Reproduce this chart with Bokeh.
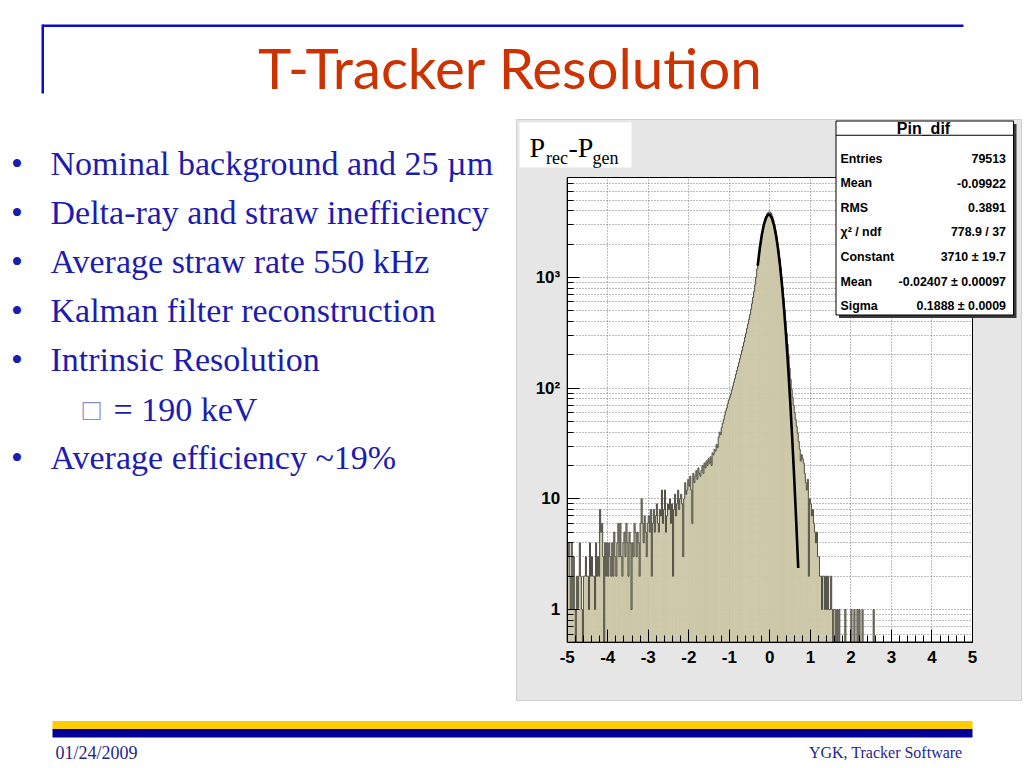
import math
import numpy as np
from bokeh.plotting import figure
from bokeh.models import Range1d, Label, BoxAnnotation, FixedTicker, ColumnDataSource, Grid
from bokeh.embed import file_html
from bokeh.resources import INLINE

# ---------------- data ----------------
hist_low, hist_high, n_bins = -5.0, 5.0, 400
counts = [
    3, 4, 2, 1, 4, 1, 3, 1, 0, 2, 1, 2, 4, 2, 1, 0, 2, 2, 3, 2,
    2, 1, 4, 2, 3, 2, 2, 1, 4, 2, 3, 2, 8, 5, 6, 3, 0, 4, 2, 4,
    2, 4, 3, 2, 4, 2, 5, 3, 2, 4, 6, 3, 6, 3, 2, 4, 5, 3, 6, 4,
    2, 5, 4, 1, 4, 3, 6, 5, 3, 5, 4, 2, 6, 10, 6, 4, 7, 5, 3, 6,
    7, 5, 8, 2, 6, 8, 5, 7, 9, 6, 5, 8, 7, 12, 6, 8, 12, 5, 7, 9,
    8, 10, 6, 9, 2, 8, 11, 7, 9, 12, 8, 10, 11, 9, 3, 10, 14, 11, 12, 15,
    13, 16, 12, 6, 17, 14, 16, 18, 15, 19, 17, 16, 18, 20, 17, 21, 19, 22, 20, 23,
    21, 24, 20, 26, 25, 28, 27, 31, 29, 36, 40, 38, 44, 48, 52, 57, 62, 66, 72, 78,
    82, 88, 96, 104, 113, 122, 133, 144, 156, 170, 184, 200, 218, 238, 260, 286, 312, 345, 380, 418,
    462, 515, 580, 660, 750, 860, 1000, 1190, 1400, 1680, 1970, 2270, 2570, 2860, 3130, 3370, 3560, 3760, 3870, 3900,
    3880, 3780, 3560, 3300, 3010, 2700, 2380, 2070, 1770, 1490, 1240, 1010, 815, 650, 510, 400, 315, 250, 196, 152,
    120, 97, 82, 70, 60, 52, 45, 39, 33, 28, 22, 25, 23, 21, 17, 14, 12, 15, 2, 10,
    9, 7, 8, 6, 5, 4, 5, 3, 3, 2, 2, 1, 2, 2, 1, 2, 1, 2, 1, 1,
    2, 1, 0, 1, 1, 0, 1, 0, 1, 0, 0, 0, 0, 0, 1, 0, 0, 0, 0, 0,
    1, 0, 0, 1, 0, 0, 1, 0, 1, 0, 0, 1, 0, 0, 0, 0, 0, 0, 0, 0,
    0, 0, 1, 0, 0, 0, 0, 0, 0, 0, 0, 0, 0, 0, 0, 0, 0, 0, 0, 0,
    0, 0, 0, 0, 0, 0, 0, 0, 0, 0, 0, 0, 0, 0, 0, 0, 0, 0, 0, 0,
    0, 0, 0, 0, 0, 0, 0, 0, 0, 0, 0, 0, 0, 0, 0, 0, 0, 0, 0, 0,
    0, 0, 0, 0, 0, 0, 0, 0, 0, 0, 0, 0, 0, 0, 0, 0, 0, 0, 0, 0,
    0, 0, 0, 0, 0, 0, 0, 0, 0, 0, 0, 0, 0, 0, 0, 0, 0, 0, 0, 0,
]
fit_x = [-0.30, -0.25, -0.20, -0.15, -0.10, -0.05, -0.025, 0.00, 0.05, 0.10, 0.15,
         0.20, 0.25, 0.30, 0.35, 0.40, 0.45, 0.50, 0.55, 0.60, 0.65, 0.70]
fit_y = [1275, 1813, 2403, 2970, 3422, 3675, 3710, 3680, 3435, 2990, 2426,
         1835, 1294, 850, 521, 298, 158.6, 78.7, 36.4, 15.7, 6.33, 2.37]

x_ticks = [-5, -4, -3, -2, -1, 0, 1, 2, 3, 4, 5]
x_tick_labels = ["-5", "-4", "-3", "-2", "-1", "0", "1", "2", "3", "4", "5"]
y_ticks = [1, 10, 100, 1000]
y_tick_labels = ["1", "10", "10\u00b2", "10\u00b3"]

stats_title = "Pin_dif"
stats_names = ["Entries", "Mean", "RMS", "\u03c7\u00b2 / ndf", "Constant", "Mean", "Sigma"]
stats_values = ["79513", "-0.09922", "0.3891", "778.9 / 37", "3710 \u00b1 19.7",
                "-0.02407 \u00b1 0.00097", "0.1888 \u00b1 0.0009"]

slide_title = "T-Tracker Resolution"
bullets = ["Nominal background and 25 \u00b5m", "Delta-ray and straw inefficiency",
           "Average straw rate 550 kHz", "Kalman filter reconstruction", "Intrinsic Resolution"]
sub_box = "\u25a1"
sub_text = "= 190 keV"
last_bullet = "Average efficiency ~19%"
footer_left = "01/24/2009"
footer_right = "YGK, Tracker Software"

# ---------------- styles / geometry ----------------
TAN = "#ccc7a8"
ROOT_GREY = "#e6e6e6"
BLUE_TEXT = "#1c1cb0"
TITLE_COL = "#cc3300"
LINE_BLUE = "#0a0ad0"
YELLOW = "#ffcc00"
NAVY = "#000099"
FOOT_COL = "#1f1f8f"
GRID_COL = "#7a7a7a"

W, H = 1022, 766
FL, FR, FT, FB = 566.7, 972.0, 177.0, 641.7      # histogram frame on the canvas (px)
Y_MIN, Y_MAX = 0.507, 7990

px_per_x = (FR - FL) / (hist_high - hist_low)
px_per_dec = (FB - FT) / (math.log10(Y_MAX) - math.log10(Y_MIN))
x_start = hist_low - FL / px_per_x
x_end = hist_high + (W - FR) / px_per_x
y_start = 10 ** (math.log10(Y_MIN) - (H - FB) / px_per_dec)
y_end = 10 ** (math.log10(Y_MAX) + FT / px_per_dec)

p = figure(width=W, height=H, output_backend="svg", toolbar_location=None,
           x_range=Range1d(x_start, x_end), y_range=Range1d(y_start, y_end),
           y_axis_type="log", title=None,
           min_border_left=0, min_border_right=0, min_border_top=0, min_border_bottom=0)
p.border_fill_color = "white"
p.background_fill_color = "white"
p.outline_line_color = None


def cbox(l, r, t, b, fill, line=None, lw=1, level="annotation", falpha=1.0):
    p.add_layout(BoxAnnotation(left=l, right=r, top=t, bottom=b,
                               left_units="canvas", right_units="canvas",
                               top_units="canvas", bottom_units="canvas",
                               fill_color=fill, fill_alpha=falpha,
                               line_color=line if line else "white",
                               line_alpha=1 if line else 0, line_width=lw,
                               level=level))


def clabel(text, x, y, size, color, font, style="normal", align="left"):
    p.add_layout(Label(x=x, y=y, x_units="canvas", y_units="canvas", text=text,
                       text_font=font, text_font_size=size, text_color=color,
                       text_font_style=style, text_align=align, text_baseline="middle"))


# ROOT pad (grey) and white histogram frame, below the grid
cbox(516, 1021, 119, 700, ROOT_GREY, line="#cfcfcf", level="image")
p.add_layout(BoxAnnotation(left=hist_low, right=hist_high, bottom=Y_MIN, top=Y_MAX,
                           fill_color="white", fill_alpha=1, line_alpha=0, level="image"))

# ticks
xt = FixedTicker(ticks=x_ticks, minor_ticks=[round(hist_low + 0.2 * k, 2) for k in range(51)])
yt = FixedTicker(ticks=y_ticks,
                 minor_ticks=[m * 10.0 ** e for e in range(-1, 4) for m in range(2, 10)
                              if Y_MIN <= m * 10.0 ** e <= Y_MAX])
p.xaxis.ticker = xt
p.yaxis.ticker = yt
p.xaxis.fixed_location = Y_MIN
p.yaxis.fixed_location = hist_low
p.xaxis.bounds = (hist_low, hist_high)
p.yaxis.bounds = (Y_MIN, Y_MAX)

for ax, tin, tmin in ((p.xaxis[0], 13, 7), (p.yaxis[0], 12, 6)):
    ax.major_tick_out = 0
    ax.minor_tick_out = 0
    ax.major_tick_in = tin
    ax.minor_tick_in = tmin
    ax.major_tick_line_color = "black"
    ax.minor_tick_line_color = "black"
    ax.axis_line_color = "black"
    ax.major_label_text_font = "Liberation Sans"
    ax.major_label_text_font_style = "bold"
    ax.major_label_text_font_size = "17px"
    ax.major_label_text_color = "black"
p.xaxis.major_label_standoff = 9
p.yaxis.major_label_standoff = 7
p.xaxis.major_label_overrides = {t: s for t, s in zip(x_ticks, x_tick_labels)}
p.yaxis.major_label_overrides = {t: s for t, s in zip(y_ticks, y_tick_labels)}

# grids limited to the histogram frame
p.xgrid.visible = False
p.ygrid.visible = False
if "cross_bounds" in Grid.properties():
    gx = Grid(dimension=0, ticker=xt, bounds=(hist_low, hist_high), cross_bounds=(Y_MIN, Y_MAX),
              grid_line_color=GRID_COL, grid_line_dash="1 2")
    gy = Grid(dimension=1, ticker=yt, bounds=(Y_MIN, Y_MAX), cross_bounds=(hist_low, hist_high),
              grid_line_color=GRID_COL, grid_line_dash="1 2",
              minor_grid_line_color=GRID_COL, minor_grid_line_dash="1 2")
    p.add_layout(gx)
    p.add_layout(gy)
else:
    gxs = [t for t in x_ticks if hist_low < t < hist_high]
    p.segment(x0=gxs, x1=gxs, y0=[Y_MIN] * len(gxs), y1=[Y_MAX] * len(gxs),
              line_color=GRID_COL, line_dash="1 2", level="underlay")
    gys = list(y_ticks) + list(yt.minor_ticks)
    p.segment(x0=[hist_low] * len(gys), x1=[hist_high] * len(gys), y0=gys, y1=gys,
              line_color=GRID_COL, line_dash="1 2", level="underlay")

# histogram
cnt = np.array(counts, dtype=float)
edges = np.linspace(hist_low, hist_high, n_bins + 1)
shown = np.where(cnt > 0, cnt, Y_MIN)
src = ColumnDataSource(dict(left=edges[:-1], right=edges[1:], top=shown,
                            bottom=np.full(n_bins, Y_MIN)))
p.quad(left="left", right="right", top="top", bottom="bottom", source=src,
       fill_color=TAN, line_color=TAN, line_width=0.6)
p.step(edges, np.append(shown, shown[-1]), mode="after", line_color="#4d4d44", line_width=1)
p.line(fit_x, fit_y, line_color="black", line_width=2.6)

# histogram frame outline
p.add_layout(BoxAnnotation(left=hist_low, right=hist_high, bottom=Y_MIN, top=Y_MAX,
                           fill_alpha=0, line_color="black", line_width=1, line_alpha=1))

# ---------------- slide decorations (canvas px = page px) ----------------
cbox(42, 963, 24, 26.5, LINE_BLUE)
cbox(41, 43.5, 24, 93, LINE_BLUE)

clabel(slide_title, 510, 66, "56.5px", TITLE_COL, "Lato", align="center")

for k, txt in enumerate(bullets):
    yc = 163 + 49 * k
    clabel("\u2022", 10.5, yc, "34px", BLUE_TEXT, "Liberation Serif")
    clabel(txt, 50, yc, "34px", BLUE_TEXT, "Liberation Serif")
clabel(sub_box, 82, 409, "30px", "#8c8cc8", "Liberation Serif")
clabel(sub_text, 113, 409, "34px", BLUE_TEXT, "Liberation Serif")
clabel("\u2022", 10.5, 457, "34px", BLUE_TEXT, "Liberation Serif")
clabel(last_bullet, 50, 457, "34px", BLUE_TEXT, "Liberation Serif")

cbox(52, 972, 720.5, 728.5, YELLOW)
cbox(52, 972, 728.5, 737, NAVY)
clabel(footer_left, 55, 752, "18px", FOOT_COL, "Liberation Serif")
clabel(footer_right, 962, 752, "16px", FOOT_COL, "Liberation Serif", align="right")

# ROOT pad label  P_rec - P_gen
cbox(519, 631, 122, 167, "white")
clabel("P", 529, 147, "28px", "black", "Liberation Serif")
clabel("rec", 545.5, 157, "18px", "black", "Liberation Serif")
clabel("-P", 568, 147, "28px", "black", "Liberation Serif")
clabel("gen", 592, 157, "18px", "black", "Liberation Serif")

# stats box
cbox(838.5, 1016, 123.5, 317.5, "#3a3a3a")
cbox(835.5, 1013, 120.5, 314.5, "white", line="black")
cbox(835.5, 1013, 134.2, 135.2, "black")
clabel(stats_title, 923, 128, "16px", "black", "Liberation Sans", style="bold", align="center")
for k, (nm, vl) in enumerate(zip(stats_names, stats_values)):
    yc = 158 + 24.6 * k
    clabel(nm, 840, yc, "12.4px", "black", "Liberation Sans", style="bold")
    clabel(vl, 1005.5, yc, "12.4px", "black", "Liberation Sans", style="bold", align="right")

open("out.html", "w").write(file_html(p, INLINE))
